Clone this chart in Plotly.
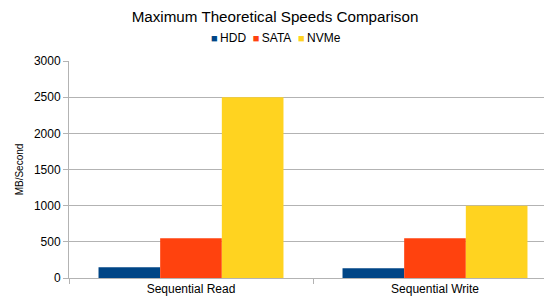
import plotly.graph_objects as go

categories = ["Sequential Read", "Sequential Write"]
series_names = ["HDD", "SATA", "NVMe"]
hdd = [150, 135]
sata = [550, 550]
nvme = [2500, 1000]
colors = ["#004586", "#ff420e", "#ffd320"]
y_ticks = [0, 500, 1000, 1500, 2000, 2500, 3000]

fig = go.Figure()
for name, vals, c in zip(series_names, [hdd, sata, nvme], colors):
    fig.add_trace(go.Bar(name=name, x=categories, y=vals, showlegend=False,
                         marker=dict(color=c, line=dict(width=0))))

font = "Liberation Sans, Arial, sans-serif"
legend_text = "&nbsp;&nbsp;".join(
    f'<span style="color:{c};font-size:11px">■</span>&#8201;{n}' for n, c in zip(series_names, colors))

# page body has an 8px default margin; the plot area runs slightly past the right edge of the view
W, H = 552, 295
L, R, T, B = 61, 3, 53, 25
PW = W - L - R
fig.update_layout(
    width=W, height=H,
    margin=dict(l=L, r=R, t=T, b=B),
    paper_bgcolor="white", plot_bgcolor="white",
    barmode="group", bargap=0.242, bargroupgap=0,
    title=dict(text="Maximum Theoretical Speeds Comparison", x=(275 - 8) / W, xanchor="center",
               y=1 - 9 / H, yanchor="middle", font=dict(family=font, size=15.2, color="#000")),
    font=dict(family=font, size=12, color="#000"),
)
fig.add_annotation(text=legend_text, xref="paper", yref="paper",
                   x=(276 - 8 - L) / PW, xanchor="center", y=1 + (T - 30) / (H - T - B), yanchor="middle",
                   showarrow=False, font=dict(family=font, size=12, color="#000"))
fig.update_xaxes(showline=True, linecolor="#b3b3b3", linewidth=1, ticks="outside",
                 tickson="boundaries", ticklen=5, tickcolor="#b3b3b3", automargin=False,
                 tickfont=dict(family=font, size=12, color="#000"), showgrid=False)
fig.update_yaxes(range=[0, 3000], tickvals=y_ticks, showline=True, linecolor="#b3b3b3",
                 linewidth=1, ticks="outside", ticklen=5, tickcolor="#b3b3b3", automargin=False,
                 gridcolor="#b3b3b3", gridwidth=1, zeroline=False,
                 tickfont=dict(family=font, size=12, color="#000"),
                 title=dict(text="MB/Second", font=dict(family=font, size=10, color="#000"), standoff=8))
fig.write_html("out.html")
